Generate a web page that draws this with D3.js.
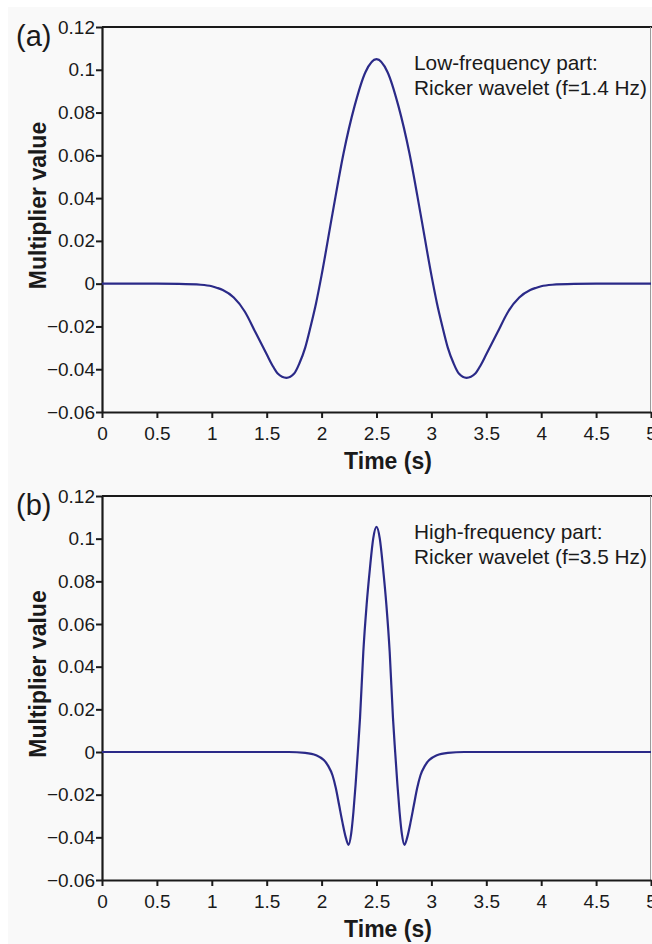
<!DOCTYPE html>
<html>
<head>
<meta charset="utf-8">
<script src="https://cdn.jsdelivr.net/npm/d3@7/dist/d3.min.js"></script>
<style>
  html, body { margin: 0; padding: 0; background: #ffffff; }
  svg { display: block; font-family: "Liberation Sans", Arial, sans-serif; }
</style>
</head>
<body>
<div id="chart"></div>
<script>
// time (s) and multiplier values, 1.4 Hz wavelet
const timeLow = [0, 0.5, 0.7, 0.9, 1.0, 1.05, 1.1, 1.2, 1.3, 1.4, 1.5, 1.55, 1.6, 1.68, 1.75, 1.8, 1.85, 1.9, 1.95,
    2.0, 2.1, 2.2, 2.3, 2.4, 2.5, 2.6, 2.7, 2.8, 2.9, 3.0, 3.05, 3.1, 3.15, 3.2, 3.25, 3.32, 3.4, 3.45,
    3.5, 3.6, 3.7, 3.8, 3.9, 3.95, 4.0, 4.1, 4.3, 4.5, 5.0];
const valueLow = [0, 0, -0.0001, -0.0005, -0.0012, -0.002, -0.003, -0.0065, -0.013, -0.023, -0.033, -0.038, -0.042, -0.044, -0.042, -0.037, -0.030, -0.020, -0.009,
    0.004, 0.033, 0.061, 0.083, 0.099, 0.105, 0.099, 0.083, 0.061, 0.033, 0.004, -0.009, -0.020, -0.030, -0.037, -0.042, -0.044, -0.042, -0.038,
    -0.033, -0.023, -0.013, -0.0065, -0.003, -0.002, -0.0012, -0.0005, -0.0001, 0, 0];

// panel (b), 3.5 Hz wavelet
const timeHigh = [0, 1.0, 1.5, 1.7, 1.85, 1.95, 2.02, 2.06, 2.1, 2.13, 2.16, 2.19, 2.22, 2.245, 2.27, 2.29, 2.31, 2.33, 2.35, 2.38, 2.41, 2.44, 2.47,
    2.5, 2.53, 2.56, 2.59, 2.62, 2.65, 2.67, 2.69, 2.71, 2.73, 2.755, 2.78, 2.81, 2.84, 2.87, 2.9, 2.94, 2.98, 3.05, 3.15, 3.3, 3.5, 4.0, 5.0];
const valueHigh = [0, 0, 0, 0, -0.0004, -0.0015, -0.0038, -0.0065, -0.011, -0.017, -0.025, -0.033, -0.040, -0.0435, -0.038, -0.028, -0.015, 0.000, 0.016, 0.047, 0.069, 0.086, 0.100,
    0.1055, 0.100, 0.086, 0.069, 0.047, 0.016, 0.000, -0.015, -0.028, -0.038, -0.0435, -0.040, -0.033, -0.025, -0.017, -0.011, -0.0065, -0.0038, -0.0015, -0.0004, 0, 0, 0, 0];

const xTicks = [0, 0.5, 1, 1.5, 2, 2.5, 3, 3.5, 4, 4.5, 5];
const xTickLabels = ["0", "0.5", "1", "1.5", "2", "2.5", "3", "3.5", "4", "4.5", "5"];
const yTicks = [-0.06, -0.04, -0.02, 0, 0.02, 0.04, 0.06, 0.08, 0.1, 0.12];
const yTickLabels = ["\u22120.06", "\u22120.04", "\u22120.02", "0", "0.02", "0.04", "0.06", "0.08", "0.1", "0.12"];

const panels = [
    {tag: "(a)", note: ["Low-frequency part:", "Ricker wavelet (f=1.4 Hz)"], time: timeLow, value: valueLow, top: 27, bottom: 412},
    {tag: "(b)", note: ["High-frequency part:", "Ricker wavelet (f=3.5 Hz)"], time: timeHigh, value: valueHigh, top: 496, bottom: 880}
];

const W = 652, H = 944;
const left = 102, right = 651;
const lineColor = "#2b2a88";
const ink = "#1a1a1a";

const svg = d3.select("#chart").append("svg")
    .attr("width", W)
    .attr("height", H);

// grey page, with a thin white strip on top and left
svg.append("rect")
    .attr("x", 8).attr("y", 7)
    .attr("width", W - 8).attr("height", H - 7)
    .attr("fill", "#f9f9f9");

const x = d3.scaleLinear().domain([0, 5]).range([left, right]);

panels.forEach(function (p) {
    const y = d3.scaleLinear().domain([-0.06, 0.12]).range([p.bottom, p.top]);
    const g = svg.append("g");

    // top and right frame
    g.append("line")
        .attr("x1", left).attr("x2", W)
        .attr("y1", p.top).attr("y2", p.top)
        .attr("stroke", ink).attr("stroke-width", 2);
    g.append("line")
        .attr("x1", right - 0.5).attr("x2", right - 0.5)
        .attr("y1", p.top).attr("y2", p.bottom)
        .attr("stroke", "#9a9a9a").attr("stroke-width", 1);

    const xAxis = d3.axisBottom(x)
        .tickValues(xTicks)
        .tickFormat(function (d, i) { return xTickLabels[i]; })
        .tickSizeInner(6)
        .tickSizeOuter(0)
        .tickPadding(9);

    const yAxis = d3.axisLeft(y)
        .tickValues(yTicks)
        .tickFormat(function (d, i) { return yTickLabels[i]; })
        .tickSizeInner(6)
        .tickSizeOuter(0)
        .tickPadding(1);

    const gx = g.append("g")
        .attr("transform", "translate(0," + p.bottom + ")")
        .call(xAxis);
    const gy = g.append("g")
        .attr("transform", "translate(" + left + ",0)")
        .call(yAxis);

    [gx, gy].forEach(function (a) {
        a.select(".domain").attr("stroke", ink).attr("stroke-width", 2.2);
        a.selectAll(".tick line").attr("stroke", ink).attr("stroke-width", 2);
        a.selectAll(".tick text")
            .attr("fill", ink)
            .style("font-size", "19px")
            .style("font-family", "'Liberation Sans', Arial, sans-serif");
    });

    // curve
    const pts = p.time.map(function (t, i) { return [t, p.value[i]]; });
    const line = d3.line()
        .x(function (d) { return x(d[0]); })
        .y(function (d) { return y(d[1]); })
        .curve(d3.curveMonotoneX);
    g.append("path")
        .datum(pts)
        .attr("d", line)
        .attr("fill", "none")
        .attr("stroke", lineColor)
        .attr("stroke-width", 2.2);

    // axis titles
    g.append("text")
        .attr("x", 388)
        .attr("y", p.bottom + 57)
        .attr("text-anchor", "middle")
        .attr("font-weight", "bold")
        .attr("font-size", 23)
        .attr("fill", ink)
        .text("Time (s)");

    g.append("text")
        .attr("transform", "translate(46," + ((p.top + p.bottom) / 2 - 14) + ") rotate(-90)")
        .attr("text-anchor", "middle")
        .attr("font-weight", "bold")
        .attr("font-size", 23)
        .attr("fill", ink)
        .text("Multiplier value");

    // panel tag
    g.append("text")
        .attr("x", 16)
        .attr("y", p.top + 19)
        .attr("font-size", 29)
        .attr("fill", ink)
        .text(p.tag);

    // annotation
    p.note.forEach(function (s, i) {
        g.append("text")
            .attr("x", 414)
            .attr("y", p.top + 43 + i * 25)
            .attr("font-size", 20.8)
            .attr("fill", ink)
            .text(s);
    });
});
</script>
</body>
</html>
